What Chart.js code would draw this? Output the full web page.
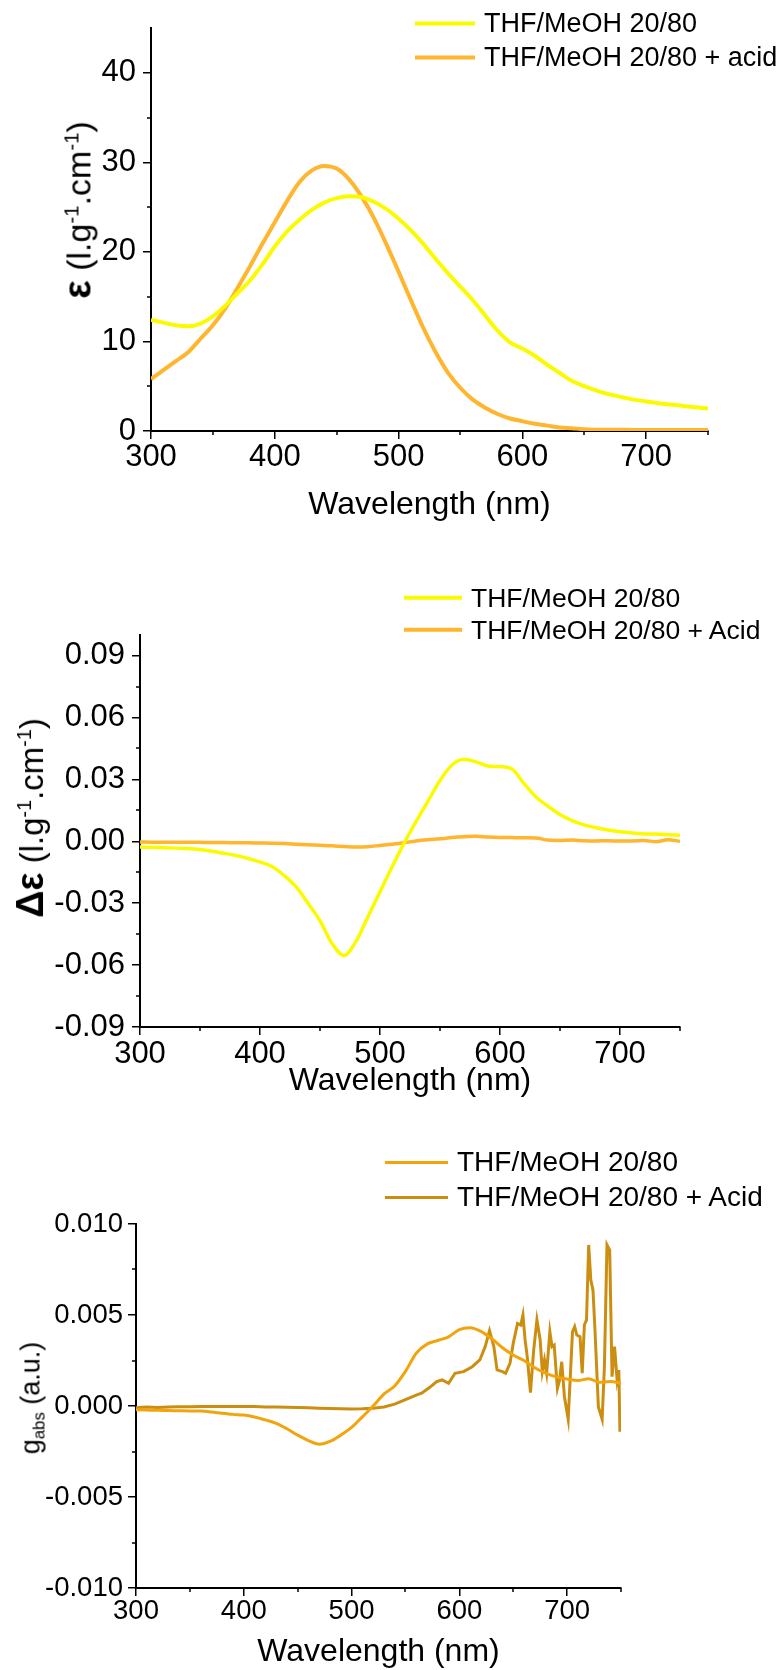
<!DOCTYPE html>
<html>
<head>
<meta charset="utf-8">
<script src="https://cdn.jsdelivr.net/npm/chart.js@4.4.1/dist/chart.umd.min.js"></script>
<style>
  body { margin: 0; background: #fff; width: 780px; height: 1670px; position: relative; overflow: hidden;
         font-family: "Liberation Sans", Arial, sans-serif; color: #000; }
  .panel { position: absolute; left: 0; width: 780px; }
  .panel canvas { position: absolute; left: 0; top: 0; }
  .ytitle { position: absolute; white-space: nowrap; transform: translate(-50%, -50%) rotate(-90deg); line-height: 1; }
  .ytitle b { font-size: 1.15em; }
  .ytitle sup { font-size: 0.6em; vertical-align: 0.6em; line-height: 0; }
  .ytitle sub { font-size: 0.62em; vertical-align: -0.28em; line-height: 0; }
  .lg { position: absolute; display: flex; align-items: center; transform: translateY(-50%); white-space: nowrap; line-height: 1; }
  .lg i { display: block; margin-right: 9px; }
</style>
</head>
<body>
<div class="panel" id="p1" style="top:0;height:540px"><canvas id="c1" width="780" height="540"></canvas></div>
<div class="panel" id="p2" style="top:540px;height:560px"><canvas id="c2" width="780" height="560"></canvas></div>
<div class="panel" id="p3" style="top:1100px;height:570px"><canvas id="c3" width="780" height="570"></canvas></div>

<div class="ytitle" style="left:77px;top:210px;font-size:34px"><b>ε</b> (l.g<sup>-1</sup>.cm<sup>-1</sup>)</div>
<div class="ytitle" style="left:31px;top:818px;font-size:33px"><b>Δε</b> (l.g<sup>-1</sup>.cm<sup>-1</sup>)</div>
<div class="ytitle" style="left:31px;top:1398px;font-size:27px">g<sub>abs</sub> (a.u.)</div>

<script>
// wavelengths (nm) shared by the smooth spectra
const wl = [300, 310, 320, 330, 340, 350, 360, 370, 380, 390, 400, 410, 420, 430, 440, 450, 460, 470, 480, 490,
  500, 510, 520, 530, 540, 550, 560, 570, 580, 590, 600, 610, 620, 630, 640, 650, 660, 670, 680, 690,
  700, 710, 720, 730, 740, 750]

// top panel: absorption
const absPlain = [12.4, 12.1, 11.8, 11.7, 12.0, 12.8, 14.0, 15.4, 16.8, 18.6, 20.6, 22.3, 23.6, 24.7, 25.5, 26.0, 26.2, 26.1, 25.6, 24.8,
  23.7, 22.4, 20.9, 19.2, 17.6, 16.1, 14.6, 12.9, 11.2, 9.9, 9.2, 8.4, 7.4, 6.5, 5.6, 5.0, 4.5, 4.1, 3.8, 3.5,
  3.3, 3.1, 2.95, 2.8, 2.65, 2.5]
const absAcid = [5.8, 6.8, 7.8, 8.8, 10.3, 11.8, 13.7, 16.0, 18.4, 20.9, 23.3, 25.7, 27.8, 29.1, 29.6, 29.3, 28.1, 26.2, 23.8, 20.9,
  17.8, 14.6, 11.5, 8.8, 6.5, 4.8, 3.5, 2.6, 1.9, 1.4, 1.1, 0.8, 0.6, 0.4, 0.3, 0.2, 0.15, 0.15, 0.15, 0.12,
  0.12, 0.1, 0.1, 0.1, 0.1, 0.1]

// middle panel: CD
const cdPlain = [-0.0028, -0.0029, -0.0031, -0.0033, -0.0035, -0.0040, -0.0048, -0.0058, -0.0069, -0.0083, -0.0100, -0.0122, -0.0165, -0.0220, -0.0300, -0.0385, -0.0495, -0.0553, -0.0485, -0.0365,
  -0.0245, -0.0125, -0.0010, 0.0095, 0.0195, 0.0295, 0.0370, 0.0398, 0.0385, 0.0365, 0.0362, 0.0350, 0.0280, 0.0215, 0.0170, 0.0130, 0.0100, 0.0080, 0.0066, 0.0055,
  0.0046, 0.0040, 0.0036, 0.0035, 0.0032, 0.0029]
const cdAcid = [-0.0003, -0.0004, -0.0004, -0.0005, -0.0004, -0.0005, -0.0006, -0.0006, -0.0007, -0.0007, -0.0008, -0.0009, -0.0011, -0.0014, -0.0017, -0.0019, -0.0022, -0.0025, -0.0028, -0.0026,
  -0.0020, -0.0014, -0.0007, 0.0002, 0.0008, 0.0012, 0.0018, 0.0022, 0.0024, 0.0021, 0.0019, 0.0018, 0.0017, 0.0016, 0.0006, 0.0004, 0.0006, 0.0003, 0.0002, 0.0003,
  0.0001, 0.0002, 0.0004, -0.0002, 0.0008, 0.0000]

// bottom panel: dissymmetry factor
const gPlain = [-0.0002, -0.00022, -0.00024, -0.00025, -0.00026, -0.00027, -0.00028, -0.00033, -0.0004, -0.00046, -0.0005, -0.0006, -0.00076, -0.00095, -0.00125, -0.0016, -0.0019, -0.0021, -0.00195, -0.0016,
  -0.00118, -0.0006, 0.0, 0.00065, 0.0011, 0.0019, 0.0029, 0.0034, 0.0036, 0.0038, 0.0042, 0.0043, 0.0041, 0.0037, 0.0032, 0.0028, 0.0025, 0.0021, 0.0018, 0.0016,
  0.00148, 0.0014, 0.0015, 0.0013, 0.00134, 0.00125]
// the acid g_abs trace is noisy, read at irregular wavelengths
const gAcidWl = [300, 310, 320, 330, 340, 350, 360, 370, 380, 390, 400, 410, 420, 430, 440, 450, 460, 470, 480, 490,
  500, 510, 520, 530, 540, 550, 560, 565, 572, 579, 584, 590, 596, 604, 612, 619, 624, 628, 632, 635,
  640, 643, 647, 650, 654, 657, 659, 661, 663, 666, 669, 672, 675, 677, 679, 681, 684, 686, 688, 691,
  693, 695, 697.5, 701, 705, 707, 709, 712, 714, 716, 718, 720, 722, 724, 726, 729, 732.5, 734.6, 737, 739.5,
  741.7, 744, 746.4, 748, 749]
const gAcid = [-0.0001, -0.00005, -0.00008, -0.00005, -0.00004, -0.00004, -0.00003, -0.00003, -0.00003, -0.00003, -0.00003, -0.00003, -0.00005, -0.00006, -0.00007, -0.00008, -0.0001, -0.00012, -0.00014, -0.00015,
  -0.00016, -0.00015, -0.00012, -0.00005, 0.0001, 0.00035, 0.0006, 0.0007, 0.001, 0.00134, 0.00143, 0.00125, 0.0018, 0.00189, 0.00216, 0.00253, 0.00326, 0.00414, 0.00326, 0.00198,
  0.00189, 0.0018, 0.00234, 0.00344, 0.00454, 0.00445, 0.005, 0.00363, 0.00271, 0.00073, 0.00308, 0.00473, 0.00363, 0.00189, 0.00253, 0.0018, 0.00408, 0.00326, 0.00335, 0.00097,
  0.00143, 0.00243, 0.00051, -0.00073, 0.00408, 0.00436, 0.0039, 0.00381, 0.0018, 0.00445, 0.00473, 0.00885, 0.00692, 0.00637, 0.004, -0.00004, -0.00073, 0.00216, 0.00885, 0.00857,
  0.00161, 0.00326, 0.00143, 0.00198, -0.00141]

// axis ticks
const xTicks = [300, 400, 500, 600, 700]
const xMinor = [350, 450, 550, 650, 750]
const yTicks1 = [0, 10, 20, 30, 40]
const yMinor1 = [5, 15, 25, 35]
const yTicks2 = [-0.09, -0.06, -0.03, 0, 0.03, 0.06, 0.09]
const yMinor2 = [-0.075, -0.045, -0.015, 0.015, 0.045, 0.075]
const yTicks3 = [-0.01, -0.005, 0, 0.005, 0.01]
const yMinor3 = [-0.0075, -0.0025, 0.0025, 0.0075]

const labels1 = ["THF/MeOH 20/80", "THF/MeOH 20/80 + acid"]
const labels2 = ["THF/MeOH 20/80", "THF/MeOH 20/80 + Acid"]

Chart.defaults.font.family = '"Liberation Sans", Arial, sans-serif'
Chart.defaults.color = '#000'

const pts = (xs, ys) => xs.map((x, i) => ({ x: x, y: ys[i] }))

// small outward minor ticks, placed through the chart scales
const minorTicks = {
  id: 'minorTicks',
  afterDraw(chart, args, opts) {
    const { ctx } = chart
    const x = chart.scales.x, y = chart.scales.y
    ctx.save()
    ctx.strokeStyle = '#000'
    ctx.lineWidth = 1.5
    ctx.beginPath()
    opts.x.forEach(v => {
      const px = Math.round(x.getPixelForValue(v))
      ctx.moveTo(px, x.top); ctx.lineTo(px, x.top + opts.len)
    })
    opts.y.forEach(v => {
      const py = Math.round(y.getPixelForValue(v))
      ctx.moveTo(y.right, py); ctx.lineTo(y.right - opts.len, py)
    })
    ctx.stroke()
    ctx.restore()
  }
}

function makeChart(id, cfg) {
  const datasets = cfg.series.map(s => ({
    label: s.label,
    data: s.data,
    borderColor: s.color,
    backgroundColor: s.color,
    borderWidth: s.width,
    pointRadius: 0,
    fill: false,
    tension: s.tension || 0,
    cubicInterpolationMode: s.smooth ? 'monotone' : 'default'
  }))
  return new Chart(document.getElementById(id), {
    type: 'line',
    data: { datasets: datasets },
    plugins: [minorTicks],
    options: {
      responsive: false,
      animation: false,
      layout: { padding: cfg.pad },
      plugins: {
        legend: { display: false },
        tooltip: { enabled: false },
        minorTicks: { x: xMinor, y: cfg.yMinor, len: 4 }
      },
      scales: {
        x: {
          type: 'linear', min: 300, max: 750,
          afterBuildTicks: s => { s.ticks = xTicks.map(v => ({ value: v })) },
          afterFit: s => { s.height = cfg.xHeight },
          grid: { drawOnChartArea: false, drawTicks: true, tickLength: 8, color: '#000', lineWidth: 1.5 },
          border: { display: true, color: '#000', width: 2 },
          ticks: { font: { size: cfg.tickSize, lineHeight: 1 }, padding: cfg.xPad, maxRotation: 0, color: '#000' },
          title: { display: true, text: 'Wavelength (nm)', font: { size: 32, lineHeight: 1 }, padding: { top: 0, bottom: cfg.titlePad }, color: '#000' }
        },
        y: {
          type: 'linear', min: cfg.yMin, max: cfg.yMax,
          afterBuildTicks: s => { s.ticks = cfg.yTicks.map(v => ({ value: v })) },
          afterFit: s => { s.width = cfg.yWidth },
          grid: { drawOnChartArea: false, drawTicks: true, tickLength: 8, color: '#000', lineWidth: 1.5 },
          border: { display: true, color: '#000', width: 2 },
          ticks: { font: { size: cfg.tickSize, lineHeight: 1 }, padding: cfg.yPad, color: '#000', callback: cfg.fmt }
        }
      }
    }
  })
}

function legend(panel, items, x, ys, len, thick, size) {
  const p = document.getElementById(panel)
  items.forEach((it, i) => {
    const d = document.createElement('div')
    d.className = 'lg'
    d.style.left = x + 'px'
    d.style.top = ys[i] + 'px'
    d.style.fontSize = size + 'px'
    const sw = document.createElement('i')
    sw.style.width = len + 'px'
    sw.style.height = thick + 'px'
    sw.style.background = it.color
    const t = document.createElement('span')
    t.textContent = it.label
    d.appendChild(sw); d.appendChild(t)
    p.appendChild(d)
  })
}

const yellow = '#fbfb00', orange = '#ffb52e'
const gLight = '#f2a40c', gDark = '#cc8e10'

makeChart('c1', {
  series: [
    { label: labels1[0], data: pts(wl, absPlain), color: yellow, width: 4, smooth: true },
    { label: labels1[1], data: pts(wl, absAcid), color: orange, width: 4, smooth: true }
  ],
  pad: { top: 28, right: 72, left: 0, bottom: 0 },
  xHeight: 109, yWidth: 151, yMin: 0, yMax: 45, yTicks: yTicks1, yMinor: yMinor1,
  tickSize: 31, xPad: 3, yPad: 7, titlePad: 19,
  fmt: v => String(v)
})
legend('p1', [{ label: labels1[0], color: yellow }, { label: labels1[1], color: orange }], 415, [23, 57], 60, 4, 27)

makeChart('c2', {
  series: [
    { label: labels2[0], data: pts(wl, cdPlain), color: yellow, width: 3.5, smooth: true },
    { label: labels2[1], data: pts(wl, cdAcid), color: orange, width: 3.5, smooth: true }
  ],
  pad: { top: 95, right: 100, left: 0, bottom: 0 },
  xHeight: 73, yWidth: 140, yMin: -0.09, yMax: 0.1, yTicks: yTicks2, yMinor: yMinor2,
  tickSize: 31, xPad: 4, yPad: 7, titlePad: 3,
  fmt: v => v.toFixed(2)
})
legend('p2', [{ label: labels2[0], color: yellow }, { label: labels2[1], color: orange }], 404, [57.7, 90], 58, 4, 26.5)

makeChart('c3', {
  series: [
    { label: labels2[0], data: pts(wl, gPlain), color: gLight, width: 3, smooth: true },
    { label: labels2[1], data: pts(gAcidWl, gAcid), color: gDark, width: 3 }
  ],
  pad: { top: 124, right: 159, left: 0, bottom: 0 },
  xHeight: 82, yWidth: 136, yMin: -0.01, yMax: 0.01, yTicks: yTicks3, yMinor: yMinor3,
  tickSize: 27.5, xPad: 2, yPad: 5, titlePad: 2,
  fmt: v => v.toFixed(3)
})
legend('p3', [{ label: labels2[0], color: gLight }, { label: labels2[1], color: gDark }], 385, [62.3, 97.3], 63, 3, 28)
</script>
</body>
</html>
